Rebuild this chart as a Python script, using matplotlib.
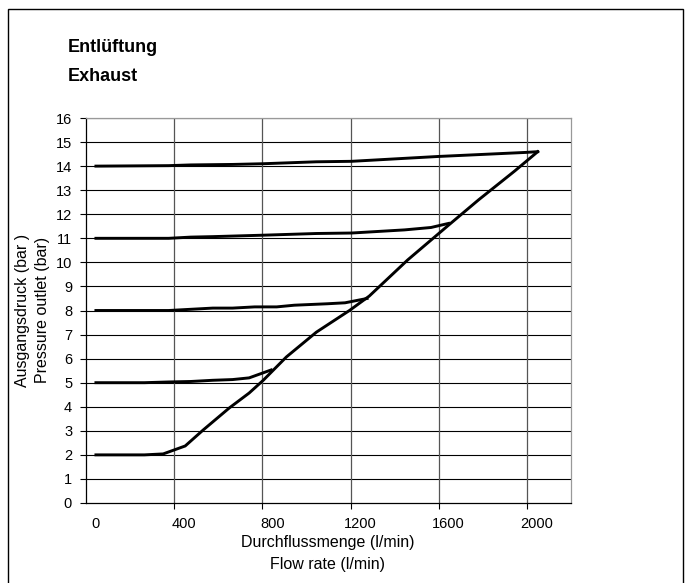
import matplotlib
import matplotlib.pyplot as plt
from matplotlib.patches import Rectangle

matplotlib.use("Agg")
plt.rcParams["font.family"] = ["Liberation Sans", "DejaVu Sans"]

# flow (l/min) and outlet pressure (bar) for each set pressure
flow_2 = [0, 220, 305, 405, 486, 605, 695, 759, 864, 1000, 1150, 1240, 1414, 1600, 1736, 1900, 2004]
pres_2 = [2.0, 2.0, 2.04, 2.37, 3.03, 3.95, 4.57, 5.1, 6.07, 7.1, 8.0, 8.6, 10.1, 11.55, 12.6, 13.8, 14.6]

flow_5 = [0, 220, 330, 430, 530, 620, 695, 795]
pres_5 = [5.0, 5.0, 5.03, 5.05, 5.1, 5.13, 5.2, 5.53]

flow_8 = [0, 330, 430, 530, 620, 720, 820, 900, 1050, 1130, 1230]
pres_8 = [8.0, 8.0, 8.05, 8.1, 8.1, 8.15, 8.15, 8.22, 8.28, 8.32, 8.5]

flow_11 = [0, 330, 430, 530, 760, 1000, 1160, 1400, 1520, 1600]
pres_11 = [11.0, 11.0, 11.05, 11.07, 11.13, 11.2, 11.22, 11.35, 11.45, 11.62]

flow_14 = [0, 330, 430, 620, 760, 1000, 1160, 1550, 1950, 2004]
pres_14 = [14.0, 14.02, 14.05, 14.07, 14.1, 14.18, 14.2, 14.4, 14.57, 14.6]

x_labels = [0, 400, 800, 1200, 1600, 2000]
x_grid = [355, 755, 1155, 1555, 1955]
y_ticks = list(range(0, 17))

W, H = 686, 583
fig = plt.figure(figsize=(W / 100, H / 100), dpi=100)
fig.patches.append(Rectangle((8 / W, -5 / H), 675 / W, 579 / H, transform=fig.transFigure,
                             fill=False, edgecolor="black", linewidth=1.0))

ax = fig.add_axes([86 / W, (H - 503) / H, (571 - 86) / W, (503 - 118) / H])

for fl, pr in [(flow_2, pres_2), (flow_5, pres_5), (flow_8, pres_8), (flow_11, pres_11), (flow_14, pres_14)]:
    ax.plot(fl, pr, color="black", linewidth=2.1, solid_joinstyle="miter", zorder=3)

ax.set_xlim(-45, 2155)
ax.set_ylim(0, 16)

ax.set_yticks(y_ticks)
ax.set_xticks(x_grid)
ax.set_xticklabels([""] * len(x_grid))
ax.set_xticks(x_labels, minor=True)
ax.set_xticklabels([str(v) for v in x_labels], minor=True)
ax.tick_params(axis="x", which="minor", length=0, pad=10, labelsize=10.5)
ax.tick_params(axis="x", which="major", length=4, width=0.8, direction="out")
ax.tick_params(axis="y", length=4, width=0.8, direction="out", pad=6, labelsize=10.5)

for v in y_ticks[1:]:
    ax.axhline(v, color="black", linewidth=0.8, zorder=1)
for v in x_grid:
    ax.axvline(v, color="#555555", linewidth=0.9, zorder=1)

ax.spines["left"].set_color("black")
ax.spines["bottom"].set_color("black")
ax.spines["top"].set_color("#999999")
ax.spines["right"].set_color("#999999")
for s in ax.spines.values():
    s.set_linewidth(0.9)

fig.text(68 / W, 1 - 47 / H, "Entlüftung", fontsize=13, fontweight="bold", va="center", ha="left")
fig.text(68 / W, 1 - 76 / H, "Exhaust", fontsize=13, fontweight="bold", va="center", ha="left")

fig.text(328 / W, 1 - 543 / H, "Durchflussmenge (l/min)", fontsize=11.5, ha="center", va="center")
fig.text(328 / W, 1 - 564 / H, "Flow rate (l/min)", fontsize=11.5, ha="center", va="center")
fig.text(23 / W, 1 - 310 / H, "Ausgangsdruck (bar )", fontsize=11.5, ha="center", va="center", rotation=90)
fig.text(43 / W, 1 - 310 / H, "Pressure outlet (bar)", fontsize=11.5, ha="center", va="center", rotation=90)

fig.savefig("out.png", dpi=100)
